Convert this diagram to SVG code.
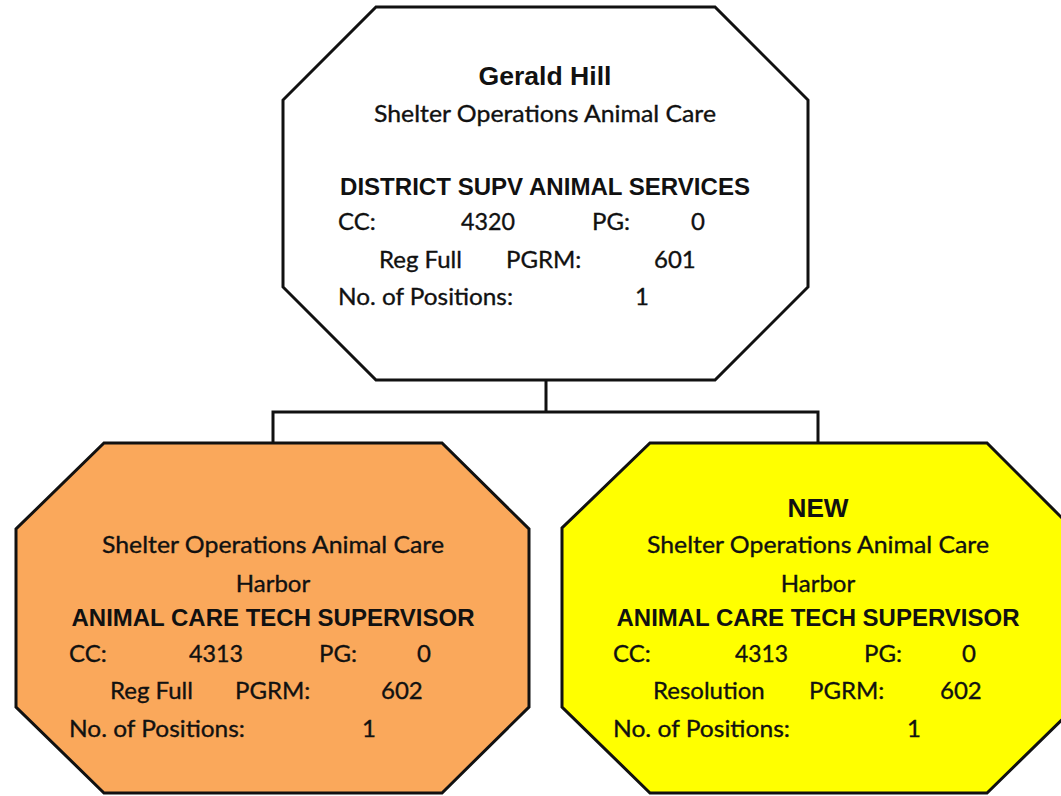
<svg xmlns="http://www.w3.org/2000/svg" width="1061" height="796" viewBox="0 0 1061 796">
<style>
.oct{stroke:#111;stroke-width:3;stroke-linejoin:miter}
.b{font-family:"Liberation Sans",Arial,sans-serif;font-weight:bold;fill:#111}
.r{font-family:Lato,"Liberation Sans",sans-serif;font-size:24px;fill:#111;stroke:#111;stroke-width:0.35}
.c{text-anchor:middle}
.conn{fill:none;stroke:#111;stroke-width:3}
</style>
<rect width="1061" height="796" fill="#fff"/>
<g id="connectors">
<path class="conn" d="M546,380 V412 M273,443 V412 H818 V443"/>
</g>
<g id="node-top">
<polygon class="oct" fill="#fff" points="376,7 715,7 808,100 808,287 715,380 376,380 283,287 283,100"/>
<text class="b c" x="545" y="85" font-size="25" textLength="133" lengthAdjust="spacingAndGlyphs">Gerald Hill</text>
<text class="r c" x="545" y="122" textLength="342" lengthAdjust="spacingAndGlyphs">Shelter Operations Animal Care</text>
<text class="b c" x="545" y="195" font-size="23" textLength="410" lengthAdjust="spacingAndGlyphs">DISTRICT SUPV ANIMAL SERVICES</text>
<text class="r" x="338" y="230">CC:</text>
<text class="r" x="461" y="230" textLength="54" lengthAdjust="spacingAndGlyphs">4320</text>
<text class="r" x="592" y="230">PG:</text>
<text class="r" x="691" y="230">0</text>
<text class="r" x="379" y="268">Reg Full</text>
<text class="r" x="506" y="268">PGRM:</text>
<text class="r" x="654" y="268">601</text>
<text class="r" x="338" y="305" textLength="175" lengthAdjust="spacingAndGlyphs">No. of Positions:</text>
<text class="r" x="635" y="305">1</text>
</g>
<g id="node-left">
<polygon class="oct" fill="#FAA85B" points="104,443 442,443 529,529 529,707 442,793 104,793 16,707 16,529"/>
<text class="r c" x="273" y="553" textLength="342" lengthAdjust="spacingAndGlyphs">Shelter Operations Animal Care</text>
<text class="r c" x="273" y="592">Harbor</text>
<text class="b c" x="273" y="626" font-size="23" textLength="403" lengthAdjust="spacingAndGlyphs">ANIMAL CARE TECH SUPERVISOR</text>
<text class="r" x="69" y="662">CC:</text>
<text class="r" x="189" y="662" textLength="54" lengthAdjust="spacingAndGlyphs">4313</text>
<text class="r" x="319" y="662">PG:</text>
<text class="r" x="417" y="662">0</text>
<text class="r" x="110" y="699">Reg Full</text>
<text class="r" x="235" y="699">PGRM:</text>
<text class="r" x="381" y="699">602</text>
<text class="r" x="69" y="737" textLength="176" lengthAdjust="spacingAndGlyphs">No. of Positions:</text>
<text class="r" x="362" y="737">1</text>
</g>
<g id="node-right">
<polygon class="oct" fill="#FFFF00" points="650,443 987,443 1075,531 1075,707 987,793 650,793 562,707 562,528"/>
<text class="b c" x="818" y="517" font-size="25" textLength="61" lengthAdjust="spacingAndGlyphs">NEW</text>
<text class="r c" x="818" y="553" textLength="342" lengthAdjust="spacingAndGlyphs">Shelter Operations Animal Care</text>
<text class="r c" x="818" y="592">Harbor</text>
<text class="b c" x="818" y="626" font-size="23" textLength="403" lengthAdjust="spacingAndGlyphs">ANIMAL CARE TECH SUPERVISOR</text>
<text class="r" x="613" y="662">CC:</text>
<text class="r" x="735" y="662" textLength="53" lengthAdjust="spacingAndGlyphs">4313</text>
<text class="r" x="864" y="662">PG:</text>
<text class="r" x="962" y="662">0</text>
<text class="r" x="653" y="699">Resolution</text>
<text class="r" x="809" y="699">PGRM:</text>
<text class="r" x="940" y="699">602</text>
<text class="r" x="613" y="737" textLength="177" lengthAdjust="spacingAndGlyphs">No. of Positions:</text>
<text class="r" x="907" y="737">1</text>
</g>
</svg>
